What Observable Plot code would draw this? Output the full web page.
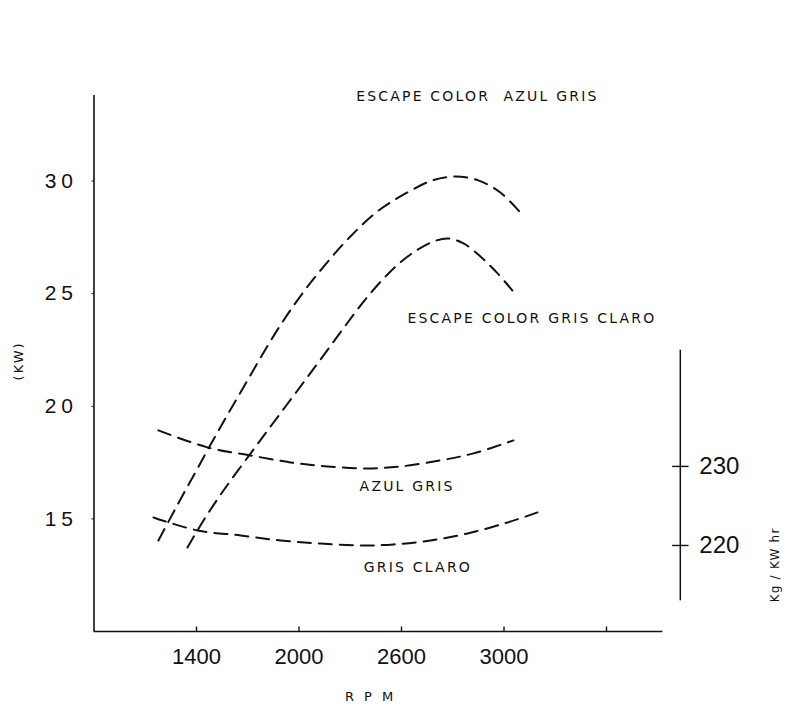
<!DOCTYPE html>
<html>
<head>
<meta charset="utf-8">
<script src="https://cdn.jsdelivr.net/npm/d3@7"></script>
<script src="https://cdn.jsdelivr.net/npm/@observablehq/plot@0.6"></script>
<style>
  html, body { margin: 0; padding: 0; background: #fff; }
  #chart svg { display: block; }
  .lbl { letter-spacing: 2.2px; }
  .ttl { letter-spacing: 3px; }
  .kw { letter-spacing: 2px; }
  .sfc { letter-spacing: 1.2px; }
  .ytl text { letter-spacing: 5px; }
</style>
</head>
<body>
<div id="chart"></div>
<script>
// ---- Data ----
// Hand-drawn RPM axis: equally spaced marks carry these labels
const rpmAxisDomain = [800, 1400, 2000, 2600, 3000, 3400, 3800];
const rpmTickValues = [1400, 2000, 2600, 3000, 3400];
const rpmTickLabels = ["1400", "2000", "2600", "3000", ""];
const kwTicks = [15, 20, 25, 30];
const sfcTicks = [220, 230];

// Power (KW) vs RPM
const powerAzulRpm = [1177, 1277, 1377, 1476, 1576, 1681, 1786, 1898, 2020, 2155, 2301, 2459, 2616, 2721, 2811, 2900, 2986, 3060];
const powerAzulKw  = [14.04, 15.46, 16.84, 18.21, 19.55, 20.92, 22.30, 23.68, 25.01, 26.30, 27.54, 28.65, 29.45, 30.03, 30.20, 30.03, 29.49, 28.65];
const powerGrisRpm = [1347, 1441, 1558, 1716, 1851, 1991, 2126, 2260, 2389, 2524, 2635, 2725, 2784, 2842, 2908, 2975, 3033];
const powerGrisKw  = [13.73, 14.93, 16.26, 17.90, 19.28, 20.70, 22.08, 23.46, 24.75, 25.90, 26.74, 27.32, 27.45, 27.23, 26.65, 25.90, 25.14];

// Specific fuel consumption (Kg/KW hr axis) vs RPM
const sfcAzulRpm = [1177, 1464, 1716, 1950, 2167, 2401, 2596, 2752, 2881, 3037];
const sfcAzulVal = [234.56, 232.41, 231.39, 230.51, 230.0, 229.75, 230.0, 230.76, 231.65, 233.29];
const sfcGrisRpm = [1148, 1406, 1658, 1892, 2126, 2360, 2553, 2713, 2858, 3014, 3131];
const sfcGrisVal = [223.54, 221.90, 221.27, 220.63, 220.25, 220.0, 220.13, 220.63, 221.52, 222.91, 224.18];

// Curve labels
const labelText = ["ESCAPE COLOR  AZUL GRIS", "ESCAPE COLOR GRIS CLARO", "AZUL GRIS", "GRIS CLARO"];
const labelRpm  = [2896, 3109, 2622, 2664];
const labelKw   = [33.76, 23.9, 16.44, 12.82];

// Axis extents
const kwDomain = [10, 33.8];
const xAxisEnd = 3620;
const rightAxisRpm = 3688;
const rightAxisRange = [213, 244.7];

// secondary (Kg/KW hr) axis -> KW scale
const sfcToKw = v => 17.33 + (v - 230) * 0.351;

const table = (xs, ys, yf = d => d) => xs.map((x, i) => ({rpm: x, y: yf(ys[i])}));
const curves = [
  table(powerAzulRpm, powerAzulKw),
  table(powerGrisRpm, powerGrisKw),
  table(sfcAzulRpm, sfcAzulVal, sfcToKw),
  table(sfcGrisRpm, sfcGrisVal, sfcToKw)
];
const labels = labelText.map((t, i) => ({t, rpm: labelRpm[i], kw: labelKw[i]}));

const FONT = "'Liberation Sans', Arial, sans-serif";
const LFONT = "'DejaVu Sans', sans-serif";

const chart = Plot.plot({
  width: 785,
  height: 712,
  marginTop: 95,
  marginBottom: 81,
  marginLeft: 93.5,
  marginRight: 76.5,
  style: {fontFamily: FONT, background: "#fff", color: "#111"},
  x: {type: "linear", domain: rpmAxisDomain},
  y: {domain: kwDomain},
  marks: [
    // main axes lines
    Plot.ruleX([rpmAxisDomain[0]], {y1: kwDomain[0], y2: kwDomain[1], stroke: "#111", strokeWidth: 1.6}),
    Plot.ruleY([kwDomain[0]], {x1: rpmAxisDomain[0], x2: xAxisEnd, stroke: "#111", strokeWidth: 1.6}),
    // x tick marks (small upward ticks)
    Plot.ruleX(rpmTickValues, {y1: kwDomain[0], y2: kwDomain[0] + 0.2, stroke: "#111", strokeWidth: 1.4}),
    Plot.axisX({ticks: rpmTickValues, tickFormat: d => rpmTickLabels[rpmTickValues.indexOf(d)], tickSize: 0, tickPadding: 17, fontSize: 22, fontFamily: FONT, label: null}),
    Plot.axisY({ticks: kwTicks, tickSize: 2, tickPadding: 14, fontSize: 21, fontFamily: FONT, label: null, className: "ytl"}),
    // right axis (Kg / KW hr)
    Plot.ruleX([rightAxisRpm], {y1: sfcToKw(rightAxisRange[0]), y2: sfcToKw(rightAxisRange[1]), stroke: "#111", strokeWidth: 1.5}),
    Plot.ruleY(sfcTicks, {y: sfcToKw, x1: rightAxisRpm - 30, x2: rightAxisRpm + 34, stroke: "#111", strokeWidth: 1.4}),
    Plot.text(sfcTicks, {x: rightAxisRpm, y: sfcToKw, text: d => String(d), textAnchor: "start", dx: 19, fontSize: 24, fontFamily: FONT}),
    // curves
    ...curves.map(c => Plot.line(c, {x: "rpm", y: "y", curve: "catmull-rom", stroke: "#111", strokeWidth: 2, strokeDasharray: "13,8"})),
    // labels
    Plot.text(labels, {x: "rpm", y: "kw", text: "t", fontSize: 14, fontFamily: LFONT, className: "lbl"}),
    // axis titles
    Plot.text(["R P M"], {frameAnchor: "bottom", x: 2419, dy: 69, fontSize: 13, fontFamily: LFONT, className: "ttl"}),
    Plot.text(["(KW)"], {frameAnchor: "left", y: 21.15, dx: -75.5, rotate: -90, fontSize: 13, fontFamily: LFONT, className: "kw"}),
    Plot.text(["Kg / KW hr"], {frameAnchor: "right", y: 14.62, dx: 66.5, rotate: -90, fontSize: 12, fontFamily: LFONT, className: "sfc"})
  ]
});
document.getElementById("chart").appendChild(chart);
</script>
</body>
</html>
